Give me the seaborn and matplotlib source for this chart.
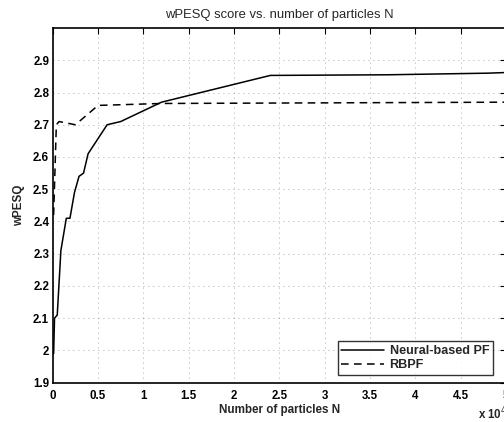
import numpy as np
import pandas as pd
import matplotlib
matplotlib.use("Agg")
import matplotlib.pyplot as plt
import seaborn as sns

# Data (x in units of 10^4 particles)
neural_x = [0.01, 0.02, 0.05, 0.09, 0.15, 0.19, 0.24, 0.29, 0.34, 0.39, 0.60, 0.75, 1.20, 2.40, 3.70, 4.80, 5.00]
neural_y = [1.99, 2.10, 2.11, 2.31, 2.41, 2.41, 2.49, 2.54, 2.55, 2.61, 2.70, 2.71, 2.77, 2.853, 2.855, 2.86, 2.862]
rbpf_x = [0.01, 0.04, 0.07, 0.25, 0.50, 1.20, 5.00]
rbpf_y = [2.42, 2.70, 2.71, 2.70, 2.76, 2.766, 2.77]
xticks = [0, 0.5, 1, 1.5, 2, 2.5, 3, 3.5, 4, 4.5, 5]
xticklabels = ["0", "0.5", "1", "1.5", "2", "2.5", "3", "3.5", "4", "4.5", "5"]
yticks = [1.9, 2.0, 2.1, 2.2, 2.3, 2.4, 2.5, 2.6, 2.7, 2.8, 2.9]
yticklabels = ["1.9", "2", "2.1", "2.2", "2.3", "2.4", "2.5", "2.6", "2.7", "2.8", "2.9"]

sns.set_style("white")
plt.rcParams['font.family'] = ['Liberation Sans', 'DejaVu Sans']

df_n = pd.DataFrame({"N": neural_x, "wPESQ": neural_y})
df_r = pd.DataFrame({"N": rbpf_x, "wPESQ": rbpf_y})

fig = plt.figure(figsize=(5.04, 4.22), dpi=100)
ax = fig.add_axes([0.1046, 0.0931, 0.8995, 0.8405])

sns.lineplot(data=df_n, x="N", y="wPESQ", ax=ax, color="black", linewidth=1.1,
             label="Neural-based PF", sort=False, estimator=None)
sns.lineplot(data=df_r, x="N", y="wPESQ", ax=ax, color="black", linewidth=1.1,
             linestyle=(0, (5, 3.5)), label="RBPF", sort=False, estimator=None)

ax.set_xlim(0, 5)
ax.set_ylim(1.9, 3.0)
ax.set_xticks(xticks)
ax.set_xticklabels(xticklabels, fontsize=8.3, fontweight="bold")
ax.set_yticks(yticks)
ax.set_yticklabels(yticklabels, fontsize=8.3, fontweight="bold")
ax.tick_params(direction="in", length=4, width=0.8, top=True, right=True, colors="black")
ax.tick_params(axis="x", pad=5)
ax.tick_params(axis="y", pad=2.5)
ax.grid(True, color="black", linestyle=(0, (1, 5)), linewidth=0.6, alpha=0.45)
for s in ax.spines.values():
    s.set_color("black")
    s.set_linewidth(1.2)

ax.set_xlabel("Number of particles N", fontsize=8.4, fontweight="bold", labelpad=2)
ax.set_ylabel("wPESQ", fontsize=8.4, fontweight="bold", labelpad=6)
ax.set_title("wPESQ score vs. number of particles N", fontsize=9.4, pad=7)

leg = ax.legend(loc="lower right", bbox_to_anchor=(0.971, 0.022), borderaxespad=0,
                prop={"size": 9.1, "weight": "bold"}, frameon=True, fancybox=False,
                handlelength=3.4, borderpad=0.3, labelspacing=0.15, handletextpad=0.4)
leg.get_frame().set_edgecolor("black")
leg.get_frame().set_linewidth(1.0)

fig.text(478 / 504, 1 - 414 / 422, "x 10$^4$", fontsize=8.3, fontweight="bold", va="center", ha="left")

fig.savefig("out.png", dpi=100)
